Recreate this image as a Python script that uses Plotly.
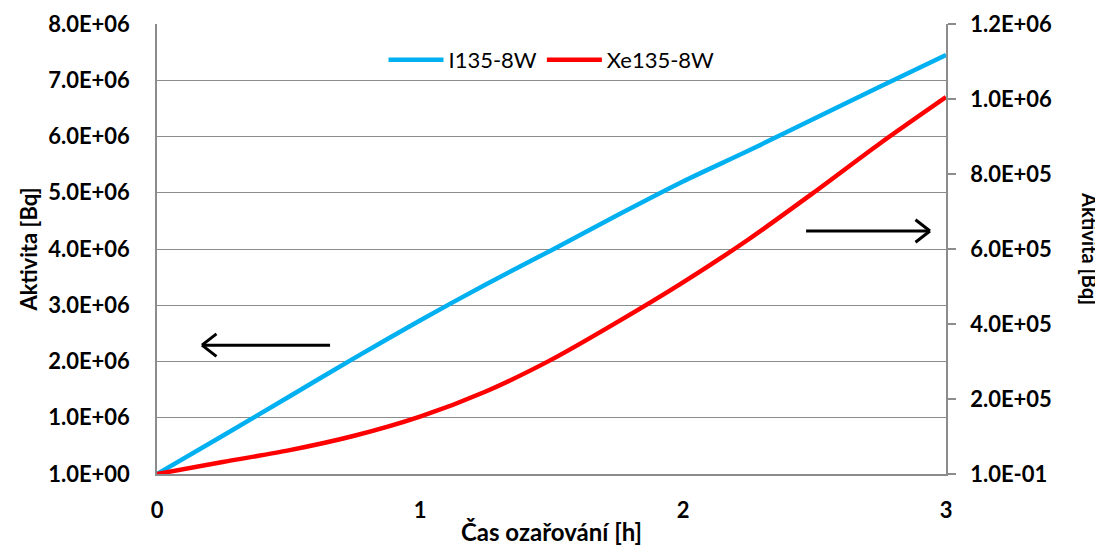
import plotly.graph_objects as go

time_h = [0, 0.25, 0.5, 0.75, 1.0, 1.25, 1.5, 1.75, 2.0, 2.25, 2.5, 2.75, 3.0]
i135_8w = [0, 0.68e6, 1.37e6, 2.06e6, 2.73e6, 3.37e6, 3.98e6, 4.60e6, 5.20e6, 5.75e6, 6.32e6, 6.89e6, 7.45e6]
xe135_8w = [0, 32000, 63000, 102000, 153000, 220000, 305000, 405000, 511000, 626000, 752000, 882000, 1005000]

left_tickvals = [0, 1e6, 2e6, 3e6, 4e6, 5e6, 6e6, 7e6, 8e6]
left_ticktext = ["1.0E+00", "1.0E+06", "2.0E+06", "3.0E+06", "4.0E+06", "5.0E+06", "6.0E+06", "7.0E+06", "8.0E+06"]
right_tickvals = [0, 2e5, 4e5, 6e5, 8e5, 1e6, 1.2e6]
right_ticktext = ["1.0E-01", "2.0E+05", "4.0E+05", "6.0E+05", "8.0E+05", "1.0E+06", "1.2E+06"]
x_ticks = [0, 1, 2, 3]

FONT = "Lato"
GRID = "#8C8C8C"

fig = go.Figure()
fig.add_trace(go.Scatter(x=time_h, y=i135_8w, name="I135-8W", mode="lines",
                         line=dict(color="#00B0F0", width=4.5, shape="spline", smoothing=0.8), yaxis="y"))
fig.add_trace(go.Scatter(x=time_h, y=xe135_8w, name="Xe135-8W", mode="lines",
                         line=dict(color="#FF0000", width=4.5, shape="spline", smoothing=0.8), yaxis="y2"))

fig.update_layout(
    width=1095, height=544,
    margin=dict(l=149, r=157, t=16, b=78, autoexpand=False),
    paper_bgcolor="white", plot_bgcolor="white",
    font=dict(family=FONT, color="black"),
    showlegend=True,
    legend=dict(orientation="h", x=0.5, xanchor="center", y=0.92, yanchor="middle",
                font=dict(family=FONT, size=22, color="black"), bgcolor="rgba(0,0,0,0)",
                itemwidth=55, tracegroupgap=0),
    xaxis=dict(range=[0, 3], tickvals=x_ticks, ticktext=[str(v) for v in x_ticks],
               showgrid=False, zeroline=False, showline=True, linecolor=GRID, linewidth=1.5,
               ticks="", ticklabelstandoff=16, automargin=False,
               tickfont=dict(family=FONT, size=22, color="black", weight="bold"),
               title=dict(text="Čas ozařování [h]", font=dict(family=FONT, size=24, color="black", weight="bold"),
                          standoff=2)),
    yaxis=dict(range=[0, 8e6], tickvals=left_tickvals, ticktext=left_ticktext,
               showgrid=True, gridcolor=GRID, gridwidth=1, zeroline=False, automargin=False,
               showline=True, linecolor=GRID, linewidth=1.5, ticks="", ticklabelstandoff=21,
               tickfont=dict(family=FONT, size=22, color="black", weight="bold"),
               title=dict(text="Aktivita [Bq]", font=dict(family=FONT, size=22, color="black", weight="bold"),
                          standoff=4)),
    yaxis2=dict(range=[0, 1.2e6], tickvals=right_tickvals, ticktext=right_ticktext,
                overlaying="y", side="right", showgrid=False, zeroline=False, automargin=False,
                showline=True, linecolor=GRID, linewidth=1.5, ticks="outside", ticklen=8,
                tickcolor=GRID, tickwidth=1.5, ticklabelstandoff=10,
                tickfont=dict(family=FONT, size=22, color="black", weight="bold")),
)

fig.add_annotation(text="Aktivita [Bq]", xref="paper", yref="paper", x=1.1825, y=0.5,
                   xanchor="center", yanchor="middle",
                   textangle=90, showarrow=False,
                   font=dict(family=FONT, size=20, color="black", weight="bold"))

# arrows (chevron heads)
def arrow(x0, x1, y, head_dx, head_dy, yref):
    fig.add_shape(type="line", x0=x0, x1=x1, y0=y, y1=y, xref="x", yref=yref,
                  line=dict(color="black", width=3))
    fig.add_shape(type="line", x0=x1, x1=x1 + head_dx, y0=y, y1=y + head_dy, xref="x", yref=yref,
                  line=dict(color="black", width=3))
    fig.add_shape(type="line", x0=x1, x1=x1 + head_dx, y0=y, y1=y - head_dy, xref="x", yref=yref,
                  line=dict(color="black", width=3))

arrow(0.658, 0.171, 2.29e6, 0.055, 0.2e6, "y")
arrow(2.468, 2.939, 4.32e6, -0.055, 0.2e6, "y")

fig.write_html("out.html")
